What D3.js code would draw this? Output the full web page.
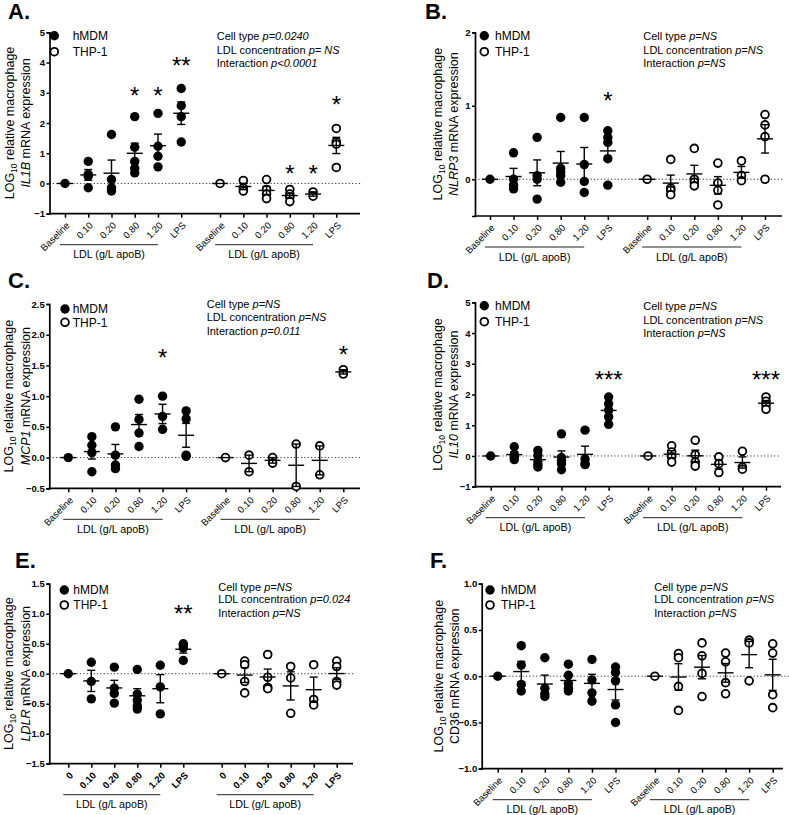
<!DOCTYPE html>
<html><head><meta charset="utf-8">
<script src="https://cdn.jsdelivr.net/npm/d3@7"></script>
<style>body{margin:0;background:#fff}svg{display:block}</style>
</head><body><svg id="c" width="789" height="815"></svg>
<script>
const FONT = '"Liberation Sans", Arial, sans-serif';
const xLabels = ["Baseline","0.10","0.20","0.80","1.20","LPS"];
const xLabelsE = ["0","0.10","0.20","0.80","1.20","LPS"];
const seriesNames = ["hMDM","THP-1"];
const groupLabel = "LDL (g/L apoB)";

// A. IL1B
const il1b_hMDM = [[0],[0.73,0.30,0.24,-0.14],[1.62,0.13,-0.14,-0.25],[2.21,1.20,0.73,0.50,0.35],[2.32,1.23,0.90,0.55],[3.14,2.57,2.21,1.37]];
const il1b_THP  = [[0],[0.10,-0.15,-0.25],[0.13,-0.20,-0.35,-0.50],[-0.20,-0.35,-0.45,-0.60],[-0.28,-0.42],[1.82,1.38,1.30,0.53]];
const il1b_stats = [["Cell type ","p=0.0240"],["LDL concentration ","p= NS"],["Interaction ","p<0.0001"]];
const il1b_sig = [[0,3,"*",3.05],[0,4,"*",3.05],[0,5,"**",4.04],[1,3,"*",0.49],[1,4,"*",0.49],[1,5,"*",2.77]];
// B. NLRP3
const nlrp3_hMDM = [[0],[0.36,0.0,-0.08,-0.13],[0.57,0.05,0.0,-0.27],[0.84,0.15,0.10,0.05,-0.04],[0.84,0.20,-0.03,-0.18],[0.66,0.57,0.50,0.28,-0.08]];
const nlrp3_THP  = [[0],[0.27,-0.12,-0.15,-0.21],[0.42,0.0,-0.04,-0.09],[0.22,-0.05,-0.15,-0.35],[0.25,0.05,-0.02],[0.88,0.74,0.58,0.0]];
const nlrp3_stats = [["Cell type ","p=NS"],["LDL concentration ","p=NS"],["Interaction ","p=NS"]];
const nlrp3_sig = [[0,5,"*",1.13]];
// C. MCP1
const mcp1_hMDM = [[0],[0.34,0.20,0.08,-0.23],[0.50,0.04,-0.12,-0.18],[0.95,0.62,0.40,0.18],[1.00,0.67,0.46],[0.76,0.63,0.04,0.02]];
const mcp1_THP  = [[0],[0.04,-0.23],[0.0,-0.09],[0.22,-0.47],[0.19,-0.28],[1.43,1.36]];
const mcp1_stats = [["Cell type ","p=NS"],["LDL concentration ","p=NS"],["Interaction ","p=0.011"]];
const mcp1_sig = [[0,4,"*",1.70],[1,5,"*",1.75]];
// D. IL10
const il10_hMDM = [[0],[0.30,0.05,-0.05,-0.12],[0.18,0.02,-0.16,-0.28,-0.36],[0.72,-0.05,-0.15,-0.25,-0.45],[0.84,-0.10,-0.25,-0.28],[1.92,1.70,1.49,1.27,1.03]];
const il10_THP  = [[0],[0.33,0.13,-0.03,-0.20],[0.51,0.04,-0.20,-0.33],[-0.03,-0.25,-0.54],[0.15,-0.36,-0.43],[1.92,1.78,1.65,1.52]];
const il10_stats = [["Cell type ","p=NS"],["LDL concentration ","p=NS"],["Interaction ","p=NS"]];
const il10_sig = [[0,5,"***",2.65],[1,5,"***",2.65]];
// E. LDLR
const ldlr_hMDM = [[0],[0.19,-0.13,-0.42],[0.11,-0.24,-0.33,-0.49],[0.07,-0.34,-0.44,-0.54,-0.59],[0.14,-0.22,-0.67],[0.50,0.48,0.43,0.22]];
const ldlr_THP  = [[0],[0.21,0.15,-0.13,-0.32],[0.32,-0.06,-0.23,-0.25],[0.12,-0.07,-0.66],[0.15,-0.43,-0.52],[0.21,0.12,-0.13,-0.19]];
const ldlr_stats = [["Cell type ","p=NS"],["LDL concentration ","p=0.024"],["Interaction ","p=NS"]];
const ldlr_sig = [[0,5,"**",1.08]];
// F. CD36
const cd36_hMDM = [[0],[0.33,0.12,-0.09,-0.16],[0.20,-0.13,-0.19,-0.22],[0.13,0.01,-0.08,-0.13,-0.16],[0.18,-0.04,-0.18,-0.27],[0.10,0.04,-0.05,-0.31,-0.50]];
const cd36_THP  = [[0],[0.245,0.20,-0.11,-0.37],[0.36,0.22,0.03,-0.22],[0.25,0.155,-0.07,-0.19],[0.39,0.36,-0.05],[0.35,0.25,-0.20,-0.34]];
const cd36_stats = [["Cell type ","p=NS"],["LDL concentration ","p=NS"],["Interaction ","p=NS"]];
const cd36_sig = [];

const yTicksA = [-1,0,1,2,3,4,5];
const yTicksB = [0,1,2];
const yTicksC = [-0.5,0,0.5,1,1.5,2,2.5];
const yTicksD = [-1,0,1,2,3,4,5];
const yTicksE = [-1.5,-1,-0.5,0,0.5,1,1.5];
const yTicksF = [-1,-0.5,0,0.5,1];

const GAP = 6.67;

const panels = [
 {letter:"A", lx:8, ly:19, ax:49.5, yTop:32.3, yBot:213.7, dom:[-1,5], ticks:yTicksA, fmt:d3.format("d"),
  x0:65, x1:336.3, axEnd:360, dotEnd:361, lcx:54.3, ltx:72.7, ly1:35.7, ly2:51.7, sx:216.7, sy:[35.7,50,62.7],
  t1:13.5, t2:29.5, gene:"IL1B", ital:true, data:[il1b_hMDM,il1b_THP], stats:il1b_stats, sig:il1b_sig, xl:xLabels, xb:false},
 {letter:"B", lx:425, ly:19, ax:475, yTop:32.3, yBot:216, dom:[-0.5,2], ticks:yTicksB, fmt:d3.format("d"),
  x0:490, x1:765, axEnd:782, dotEnd:782, lcx:484.3, ltx:495, ly1:35.7, ly2:51.7, sx:643.3, sy:[35.7,50,62.7],
  t1:442, t2:458, gene:"NLRP3", ital:true, data:[nlrp3_hMDM,nlrp3_THP], stats:nlrp3_stats, sig:nlrp3_sig, xl:xLabels, xb:false},
 {letter:"C", lx:8, ly:288, ax:49.3, yTop:304, yBot:488.3, dom:[-0.5,2.5], ticks:yTicksC, fmt:d3.format(".1f"),
  x0:68.3, x1:343.3, axEnd:360, dotEnd:360, lcx:65, ltx:72.7, ly1:309, ly2:322.3, sx:206.7, sy:[304,317.3,331],
  t1:13, t2:30, gene:"MCP1", ital:true, data:[mcp1_hMDM,mcp1_THP], stats:mcp1_stats, sig:mcp1_sig, xl:xLabels, xb:false},
 {letter:"D", lx:427, ly:288, ax:475, yTop:302.3, yBot:486.7, dom:[-1,5], ticks:yTicksD, fmt:d3.format("d"),
  x0:490.7, x1:766, axEnd:781, dotEnd:781, lcx:484.3, ltx:495, ly1:305.7, ly2:321.7, sx:643.3, sy:[305.7,320,332.7],
  t1:442, t2:458, gene:"IL10", ital:true, data:[il10_hMDM,il10_THP], stats:il10_stats, sig:il10_sig, xl:xLabels, xb:false},
 {letter:"E", lx:15, ly:568, ax:49.3, yTop:583.7, yBot:763.7, dom:[-1.5,1.5], ticks:yTicksE, fmt:d3.format(".1f"),
  x0:68.3, x1:336.7, axEnd:353, dotEnd:353, lcx:64.3, ltx:73.3, ly1:590, ly2:605, sx:218.3, sy:[586.7,599.3,612.7],
  t1:13, t2:30, gene:"LDLR", ital:true, data:[ldlr_hMDM,ldlr_THP], stats:ldlr_stats, sig:ldlr_sig, xl:xLabelsE, xb:true},
 {letter:"F", lx:430, ly:568, ax:481.7, yTop:583.7, yBot:768.7, dom:[-1,1], ticks:yTicksF, fmt:d3.format(".1f"),
  x0:497.7, x1:772.7, axEnd:783, dotEnd:789, lcx:490, ltx:501, ly1:590, ly2:605, sx:654.3, sy:[586.7,599.3,612.7],
  t1:443, t2:459, gene:"CD36", ital:false, data:[cd36_hMDM,cd36_THP], stats:cd36_stats, sig:cd36_sig, xl:xLabels, xb:false}
];

const svg = d3.select("#c").attr("font-family", FONT);

panels.forEach(p => {
  const g = svg.append("g");
  const y = d3.scaleLinear().domain(p.dom).range([p.yBot, p.yTop]);
  const x = d3.scaleLinear().domain([0, 5 + GAP]).range([p.x0, p.x1]);
  const pos = (gi, i) => x(gi * GAP + i);

  g.append("text").attr("x", p.lx).attr("y", p.ly).attr("font-size", 22).attr("font-weight", "bold").text(p.letter + ".");

  // zero dotted line
  g.append("line").attr("x1", p.ax).attr("x2", p.dotEnd).attr("y1", y(0)).attr("y2", y(0))
    .attr("stroke", "#333").attr("stroke-width", 1).attr("stroke-dasharray", "1.2,2.2");

  // y axis
  const yg = g.append("g").attr("transform", `translate(${p.ax},0)`)
    .call(d3.axisLeft(y).tickValues(p.ticks).tickFormat(p.fmt).tickSizeOuter(0).tickSize(3).tickPadding(1.5));
  yg.attr("font-family", FONT);
  yg.select(".domain").attr("stroke-width", 1.7);
  yg.selectAll(".tick line").attr("stroke-width", 1.5);
  yg.selectAll(".tick text").attr("font-size", 9.5).attr("font-weight", "bold");

  // x axis
  const idx = [0,1,2,3,4,5].concat([0,1,2,3,4,5].map(i => GAP + i));
  const xg = g.append("g").attr("transform", `translate(0,${p.yBot})`)
    .call(d3.axisBottom(x).tickValues(idx).tickFormat("").tickSize(4).tickSizeOuter(0));
  xg.select(".domain").remove();
  xg.selectAll(".tick line").attr("stroke-width", 1.5);
  idx.forEach((d, k) => {
    g.append("text")
      .attr("transform", `translate(${x(d) + 3},${p.yBot + 10}) rotate(-45)`)
      .attr("text-anchor", "end").attr("dy", "0.35em")
      .attr("font-size", 9.5).attr("font-weight", p.xb ? "bold" : "normal")
      .text(p.xl[k % 6]);
  });
  g.append("line").attr("x1", p.ax - 0.85).attr("x2", p.axEnd).attr("y1", p.yBot).attr("y2", p.yBot)
    .attr("stroke", "#000").attr("stroke-width", 1.7);

  // group brackets
  [0, 1].forEach(gi => {
    const a = pos(gi, 0) - 5, b = pos(gi, 4);
    g.append("line").attr("x1", a).attr("x2", b).attr("y1", p.yBot + 31).attr("y2", p.yBot + 31)
      .attr("stroke", "#222").attr("stroke-width", 1);
    g.append("text").attr("x", (a + b) / 2).attr("y", p.yBot + 44.5).attr("text-anchor", "middle")
      .attr("font-size", 10.7).text(groupLabel);
  });

  // points
  p.data.forEach((ser, gi) => {
    ser.forEach((vals, i) => {
      const cx = pos(gi, i);
      g.selectAll(null).data(vals).enter().append("circle")
        .attr("cx", cx).attr("cy", d => y(d))
        .attr("r", gi === 0 ? 4.7 : 3.9)
        .attr("fill", gi === 0 ? "#000" : "#fff")
        .attr("stroke", "#000").attr("stroke-width", gi === 0 ? 0 : 1.8);
    });
  });
  // mean and SEM
  p.data.forEach((ser, gi) => {
    ser.forEach((vals, i) => {
      const cx = pos(gi, i);
      const m = d3.mean(vals);
      g.append("line").attr("x1", cx - 8).attr("x2", cx + 8).attr("y1", y(m)).attr("y2", y(m))
        .attr("stroke", "#000").attr("stroke-width", 1.4);
      if (vals.length > 1) {
        const se = d3.deviation(vals) / Math.sqrt(vals.length);
        g.append("line").attr("x1", cx).attr("x2", cx).attr("y1", y(m - se)).attr("y2", y(m + se))
          .attr("stroke", "#000").attr("stroke-width", 1.4);
        [m - se, m + se].forEach(v => g.append("line").attr("x1", cx - 4).attr("x2", cx + 4)
          .attr("y1", y(v)).attr("y2", y(v)).attr("stroke", "#000").attr("stroke-width", 1.4));
      }
    });
  });

  // significance
  p.sig.forEach(s => {
    g.append("text").attr("x", pos(s[0], s[1])).attr("y", y(s[3]) + 13)
      .attr("text-anchor", "middle").attr("font-size", 24).text(s[2]);
  });

  // legend
  [p.ly1, p.ly2].forEach((ly, k) => {
    g.append("circle").attr("cx", p.lcx).attr("cy", ly).attr("r", k === 0 ? 4.7 : 3.9)
      .attr("fill", k === 0 ? "#000" : "#fff").attr("stroke", "#000").attr("stroke-width", k === 0 ? 0 : 1.8);
    g.append("text").attr("x", p.ltx).attr("y", ly + 4.3).attr("font-size", 12).text(seriesNames[k]);
  });

  // stats
  p.stats.forEach((s, k) => {
    const t = g.append("text").attr("x", p.sx).attr("y", p.sy[k] + 3.9).attr("font-size", 11);
    t.append("tspan").text(s[0]);
    t.append("tspan").attr("font-style", "italic").text(s[1]);
  });

  // y title
  const cy = (p.yTop + p.yBot) / 2;
  const t1 = g.append("text").attr("transform", `translate(${p.t1},${cy}) rotate(-90)`)
    .attr("text-anchor", "middle").attr("font-size", 12.5);
  t1.append("tspan").text("LOG");
  t1.append("tspan").attr("font-size", 8.5).attr("dy", 3).text("10");
  t1.append("tspan").attr("dy", -3).text(" relative macrophage");
  const t2 = g.append("text").attr("transform", `translate(${p.t2},${cy}) rotate(-90)`)
    .attr("text-anchor", "middle").attr("font-size", 12.5);
  t2.append("tspan").attr("font-style", p.ital ? "italic" : "normal").text(p.gene);
  t2.append("tspan").text(" mRNA expression");
});
</script></body></html>
